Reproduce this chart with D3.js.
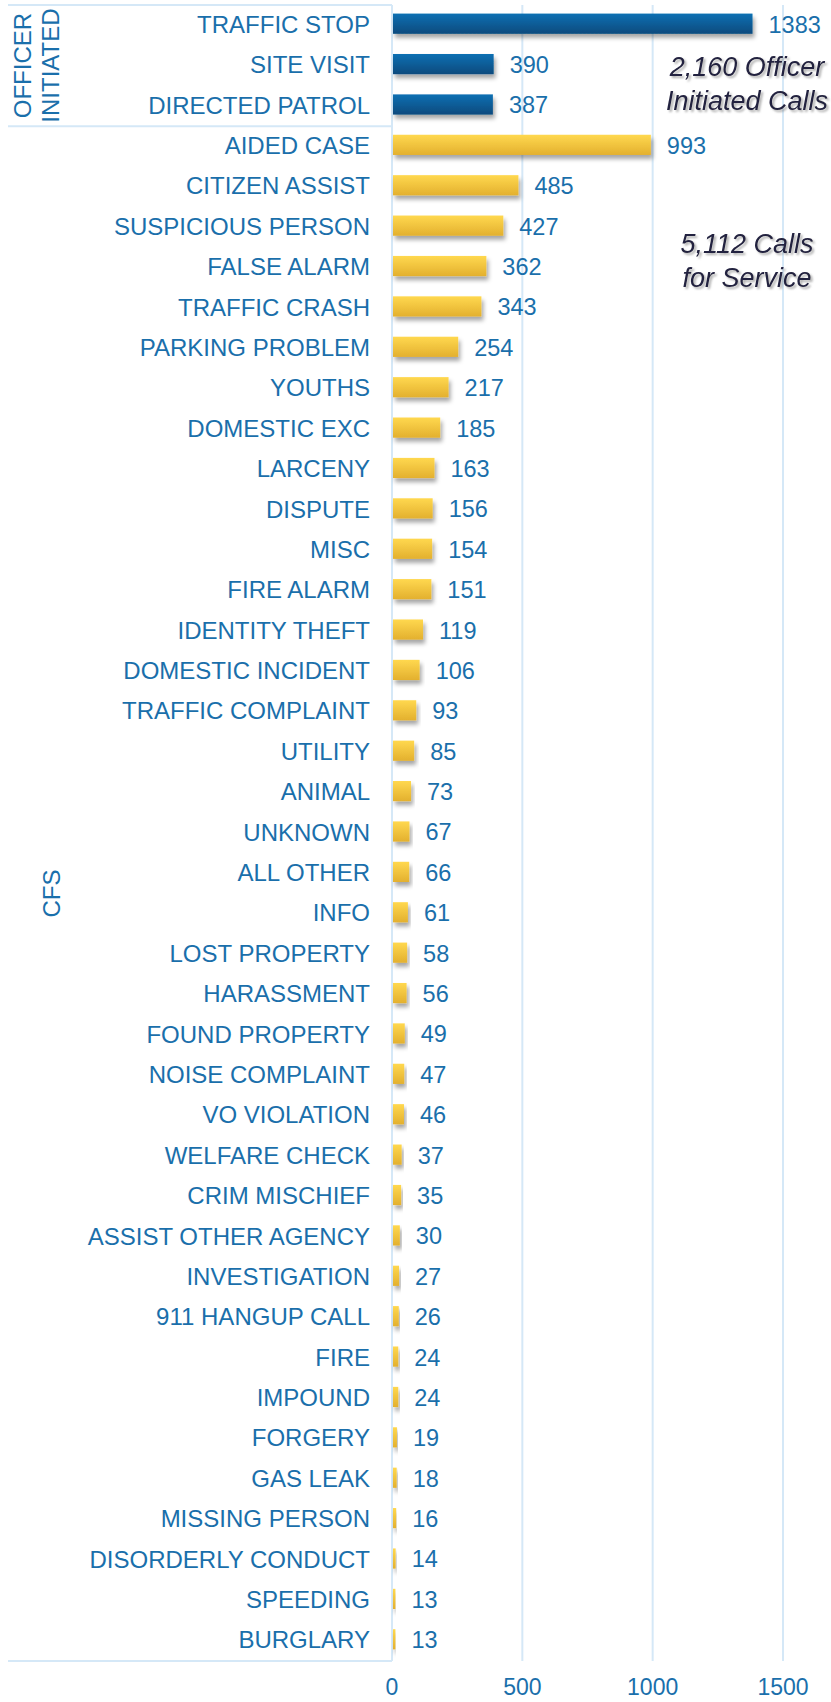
<!DOCTYPE html>
<html>
<head>
<meta charset="utf-8">
<script src="https://cdn.jsdelivr.net/npm/d3@7"></script>
<style>
  body { margin: 0; background: #fff; }
  svg { display: block; font-family: "Liberation Sans", Arial, sans-serif; }
</style>
</head>
<body>
<script>
'use strict';

// call types, counts and the group each one belongs to
const categories = [
  "TRAFFIC STOP", "SITE VISIT", "DIRECTED PATROL",
  "AIDED CASE", "CITIZEN ASSIST", "SUSPICIOUS PERSON", "FALSE ALARM",
  "TRAFFIC CRASH", "PARKING PROBLEM", "YOUTHS", "DOMESTIC EXC", "LARCENY",
  "DISPUTE", "MISC", "FIRE ALARM", "IDENTITY THEFT", "DOMESTIC INCIDENT",
  "TRAFFIC COMPLAINT", "UTILITY", "ANIMAL", "UNKNOWN", "ALL OTHER", "INFO",
  "LOST PROPERTY", "HARASSMENT", "FOUND PROPERTY", "NOISE COMPLAINT",
  "VO VIOLATION", "WELFARE CHECK", "CRIM MISCHIEF", "ASSIST OTHER AGENCY",
  "INVESTIGATION", "911 HANGUP CALL", "FIRE", "IMPOUND", "FORGERY",
  "GAS LEAK", "MISSING PERSON", "DISORDERLY CONDUCT", "SPEEDING", "BURGLARY"
];
const counts = [
  1383, 390, 387,
  993, 485, 427, 362, 343, 254, 217, 185, 163, 156, 154, 151, 119, 106,
  93, 85, 73, 67, 66, 61, 58, 56, 49, 47, 46, 37, 35, 30, 27, 26, 24, 24,
  19, 18, 16, 14, 13, 13
];
const groupNames = ["OFFICER INITIATED", "CFS"];
const groupSizes = [3, 38];
const xTicks = [0, 500, 1000, 1500];
const notes = [
  ["2,160 Officer", "Initiated Calls"],
  ["5,112 Calls", "for Service"]
];

const width = 831, height = 1702;
const svg = d3.select('body').append('svg')
  .attr('width', width)
  .attr('height', height);

const rows = categories.map((c, i) => ({
  name: c,
  value: counts[i],
  group: i < groupSizes[0] ? 0 : 1
}));

// scales
const yTop = 5, yBottom = 1661;
const x = d3.scaleLinear().domain([0, 1500]).range([392, 783]);
const y = d3.scaleBand().domain(categories).range([yTop, yBottom])
  .paddingInner(0.5).paddingOuter(0.25);

// gradients + shadow
const defs = svg.append('defs');
function grad(id, c1, c2) {
  const g = defs.append('linearGradient').attr('id', id)
    .attr('x1', 0).attr('y1', 0).attr('x2', 0).attr('y2', 1);
  g.append('stop').attr('offset', '0%').attr('stop-color', c1);
  g.append('stop').attr('offset', '100%').attr('stop-color', c2);
}
grad('blueGrad', '#0b70b3', '#084a7d');
grad('goldGrad', '#ffd84f', '#e3b02e');

defs.append('filter').attr('id', 'barShadow')
  .attr('x', '-20%').attr('y', '-50%').attr('width', '140%').attr('height', '220%')
  .append('feDropShadow')
  .attr('dx', 2).attr('dy', 4).attr('stdDeviation', 2)
  .attr('flood-color', '#000').attr('flood-opacity', 0.35);

defs.append('filter').attr('id', 'textShadow')
  .append('feDropShadow')
  .attr('dx', 2).attr('dy', 2).attr('stdDeviation', 1)
  .attr('flood-color', '#777').attr('flood-opacity', 0.6);

const lineColor = '#d5e8f7';
const textBlue = '#1a6fab';

// gridlines
svg.append('g')
  .selectAll('line')
  .data(xTicks.slice(1))
  .enter()
  .append('line')
  .attr('x1', d => x(d)).attr('x2', d => x(d))
  .attr('y1', yTop).attr('y2', yBottom)
  .attr('stroke', lineColor)
  .attr('stroke-width', 2);

// category box: top, group separator, bottom and zero line
const groupEdges = [0, groupSizes[0], categories.length];
svg.append('g')
  .selectAll('line')
  .data(groupEdges)
  .enter()
  .append('line')
  .attr('x1', 8).attr('x2', x(0))
  .attr('y1', d => yTop + y.step() * d)
  .attr('y2', d => yTop + y.step() * d)
  .attr('stroke', lineColor)
  .attr('stroke-width', 2);

svg.append('line')
  .attr('x1', x(0)).attr('x2', x(0))
  .attr('y1', yTop).attr('y2', yBottom)
  .attr('stroke', lineColor)
  .attr('stroke-width', 2);

// bars
svg.append('g')
  .selectAll('rect')
  .data(rows)
  .enter()
  .append('rect')
  .attr('x', x(0) + 1)
  .attr('y', d => y(d.name) - 1.5)
  .attr('width', d => Math.max(1.5, x(d.value) - x(0) - 1))
  .attr('height', y.bandwidth())
  .attr('fill', d => d.group === 0 ? 'url(#blueGrad)' : 'url(#goldGrad)')
  .attr('filter', 'url(#barShadow)');

// value labels
svg.append('g')
  .selectAll('text')
  .data(rows)
  .enter()
  .append('text')
  .attr('x', d => x(d.value) + 16)
  .attr('y', d => y(d.name) + y.bandwidth() / 2 - 1)
  .attr('dy', '0.36em')
  .style('font-size', '23.5px')
  .attr('fill', textBlue)
  .text(d => d.value);

// category labels
svg.append('g')
  .selectAll('text')
  .data(rows)
  .enter()
  .append('text')
  .attr('x', 370)
  .attr('y', d => y(d.name) + y.bandwidth() / 2 - 1)
  .attr('dy', '0.36em')
  .attr('text-anchor', 'end')
  .style('font-size', '24px')
  .attr('fill', textBlue)
  .text(d => d.name);

// group labels (rotated)
const groupCenters = [
  yTop + y.step() * groupSizes[0] / 2,
  yTop + y.step() * (groupSizes[0] + groupSizes[1] / 2)
];
const g0 = svg.append('text')
  .attr('transform', `translate(22, ${groupCenters[0]})rotate(-90)`)
  .attr('text-anchor', 'middle')
  .style('font-size', '24px')
  .attr('fill', textBlue);
g0.append('tspan').attr('x', 0).attr('dy', '0.36em').text('OFFICER');
g0.append('tspan').attr('x', 0).attr('dy', '1.2em').text('INITIATED');

svg.append('text')
  .attr('transform', `translate(51, ${groupCenters[1]})rotate(-90)`)
  .attr('text-anchor', 'middle')
  .attr('dy', '0.36em')
  .style('font-size', '24px')
  .attr('fill', textBlue)
  .text(groupNames[1]);

// x axis labels
svg.append('g')
  .selectAll('text')
  .data(xTicks)
  .enter()
  .append('text')
  .attr('x', d => x(d))
  .attr('y', 1687)
  .attr('dy', '0.36em')
  .attr('text-anchor', 'middle')
  .style('font-size', '23px')
  .attr('fill', textBlue)
  .text(d => d);

// annotations
const noteY = [76, 253];
notes.forEach((lines, i) => {
  const t = svg.append('text')
    .attr('x', 747)
    .attr('y', noteY[i])
    .attr('text-anchor', 'middle')
    .style('font-size', '27px')
    .style('font-style', 'italic')
    .attr('fill', '#23223f')
    .attr('filter', 'url(#textShadow)');
  lines.forEach((l, j) => {
    t.append('tspan').attr('x', 747).attr('dy', j === 0 ? 0 : 34).text(l);
  });
});
</script>
</body>
</html>
